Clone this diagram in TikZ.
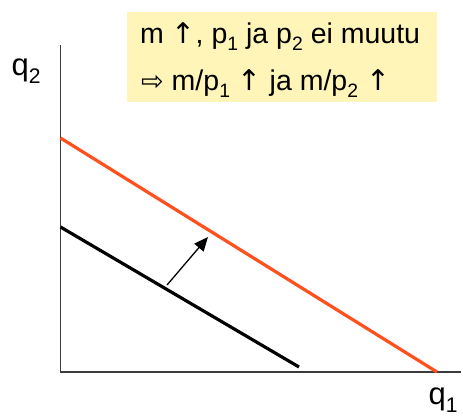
\documentclass[tikz,border=0pt]{standalone}
\usepackage{fontspec}
\setmainfont{Liberation Sans}
\newfontfamily\symfont{DejaVu Sans}
\usetikzlibrary{arrows.meta}
\definecolor{boxyellow}{RGB}{255,245,185}
\definecolor{budgetred}{RGB}{255,80,30}
\definecolor{axisgray}{RGB}{60,60,60}
\newcommand{\sbs}[1]{\raisebox{-0.28em}{\fontsize{0.68em}{0.68em}\selectfont #1}}
\begin{document}
\begin{tikzpicture}[x=1pt,y=-1pt,
  axisline/.style={draw=axisgray,line width=1.6pt},
  oldbudget/.style={draw=black,line width=3.2pt},
  newbudget/.style={draw=budgetred,line width=3.2pt},
  shiftarrow/.style={draw=black,line width=1.3pt,-{Triangle[length=14pt,width=12pt]}},
  labeltext/.style={font=\fontsize{31}{31}\selectfont,inner sep=0pt},
  boxtext/.style={font=\fontsize{28.5}{28.5}\selectfont,inner sep=0pt,anchor=base west}]
\useasboundingbox (0,0) rectangle (463,416);
\fill[boxyellow] (127,12) rectangle (437,102);
\node[boxtext] (l1) at (140,43) {m {\symfont↑}, p\sbs{1} ja p\sbs{2} ei muutu};
\node[boxtext] (l2) at (141,90) {{\symfont\fontsize{27}{27}\selectfont⇨} m/p\sbs{1} {\symfont↑} ja m/p\sbs{2} {\symfont↑}};
\coordinate (o) at (60.5,372);
\coordinate (ytop) at (60.5,45);
\coordinate (xend) at (461,372);
\draw[axisline] (ytop) -- (o) -- (xend);
\node[labeltext] (q2) at (26,71) {q\sbs{2}};
\node[labeltext] (q1) at (443,400) {q\sbs{1}};
\coordinate (r0) at (60.5,138);
\coordinate (r1) at (437,372);
\coordinate (b0) at (60.5,227);
\coordinate (b1) at (299,367);
\draw[newbudget] (r0) -- (r1);
\draw[oldbudget] (b0) -- (b1);
\coordinate (a0) at (167,285);
\coordinate (a1) at (208,237);
\draw[shiftarrow] (a0) -- (a1);
\end{tikzpicture}
\end{document}
